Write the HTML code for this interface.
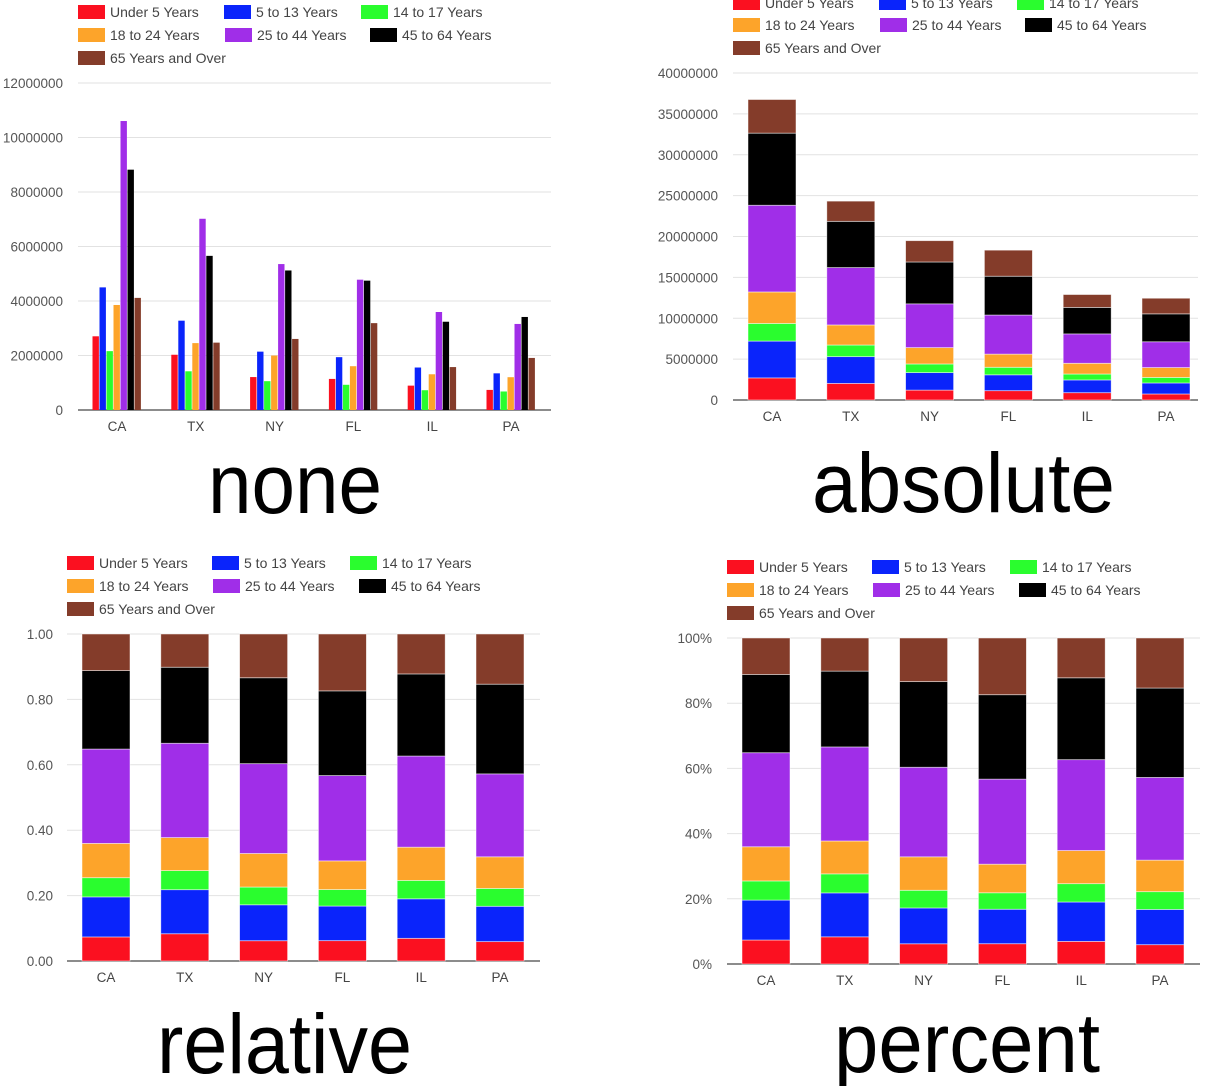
<!DOCTYPE html>
<html><head><meta charset="utf-8">
<style>
html,body{margin:0;padding:0;background:#fff;}
svg{display:block;font-family:"Liberation Sans",Arial,sans-serif;}
</style></head>
<body>
<svg id="root" width="1216" height="1086" viewBox="0 0 1216 1086" xmlns="http://www.w3.org/2000/svg">
<text x="208" y="513" font-size="84" textLength="174" lengthAdjust="spacingAndGlyphs">none</text>
<text x="812" y="512" font-size="84" textLength="303" lengthAdjust="spacingAndGlyphs">absolute</text>
<text x="157" y="1073" font-size="84" textLength="255" lengthAdjust="spacingAndGlyphs">relative</text>
<text x="834" y="1072" font-size="84" textLength="266" lengthAdjust="spacingAndGlyphs">percent</text>
</svg>
<script>
const states = ["CA","TX","NY","FL","IL","PA"];
const ageGroups = ["Under 5 Years","5 to 13 Years","14 to 17 Years","18 to 24 Years","25 to 44 Years","45 to 64 Years","65 Years and Over"];
const under5 = [2704659,2027307,1208495,1140516,894368,737462];
const age5to13 = [4499890,3277946,2141490,1938695,1558919,1345341];
const age14to17 = [2159981,1420518,1058031,925060,725973,679201];
const age18to24 = [3853788,2454721,1999120,1607297,1311479,1203944];
const age25to44 = [10604510,7017731,5355235,4782119,3596343,3157759];
const age45to64 = [8819342,5656528,5120254,4746856,3239173,3414001];
const age65plus = [4114496,2472223,2607672,3187797,1575308,1910571];
const seriesValues = [under5,age5to13,age14to17,age18to24,age25to44,age45to64,age65plus];
const ticksNone = [0,2000000,4000000,6000000,8000000,10000000,12000000];
const ticksAbsolute = [0,5000000,10000000,15000000,20000000,25000000,30000000,35000000,40000000];
const ticksRelative = [0,0.2,0.4,0.6,0.8,1.0];
const tickLabelsRelative = ["0.00","0.20","0.40","0.60","0.80","1.00"];
const tickLabelsPercent = ["0%","20%","40%","60%","80%","100%"];

const colors = ["#fb1020","#0a24fb","#2afd2e","#fda42a","#a02ee8","#000000","#843c2a"];
const NS = "http://www.w3.org/2000/svg";
const root = document.getElementById('root');
function mk(tag, attrs, parent){
  const e = document.createElementNS(NS, tag);
  for (const k in attrs) e.setAttribute(k, attrs[k]);
  (parent||root).appendChild(e);
  return e;
}

const charts = [
  {key:"none", mode:"grouped", y0:410, y1:83, max:12000000, ticks:ticksNone, labels:ticksNone.map(String), labelX:63, gx0:78, gx1:551, c0:117, step:78.8, bw:49, xlabY:431,
   legend:{rows:[12,35,58], xs:[[78,224,361],[78,225,370],[78]]}},
  {key:"absolute", mode:"stack", y0:400, y1:73, max:40000000, ticks:ticksAbsolute, labels:ticksAbsolute.map(String), labelX:718, gx0:733, gx1:1198, c0:772, step:78.8, bw:48, xlabY:421,
   legend:{rows:[3,25,48], xs:[[733,879,1017],[733,880,1025],[733]]}},
  {key:"relative", mode:"norm", y0:961, y1:634, max:1, ticks:ticksRelative, labels:tickLabelsRelative, labelX:53, gx0:67, gx1:540, c0:106, step:78.8, bw:48, xlabY:982,
   legend:{rows:[563,586,609], xs:[[67,212,350],[67,213,359],[67]]}},
  {key:"percent", mode:"norm", y0:964, y1:638, max:1, ticks:ticksRelative, labels:tickLabelsPercent, labelX:712, gx0:727, gx1:1200, c0:766, step:78.8, bw:48, xlabY:985,
   legend:{rows:[567,590,613], xs:[[727,872,1010],[727,873,1019],[727]]}}
];

charts.forEach(ch => {
  const g = mk('g', {});
  
  
  const yScale = v => ch.y0 - (v / ch.max) * (ch.y0 - ch.y1);
  const xCenter = i => ch.c0 + i * ch.step;
  ch.ticks.forEach((t, i) => {
    const y = yScale(t);
    const ln = mk('line', {x1:ch.gx0, x2:ch.gx1, y1:y, y2:y, stroke: i===0 ? '#666' : '#e2e2e2', 'stroke-width': i===0 ? 1.5 : 1}, g);
    
    
    const tx = mk('text', {x:ch.labelX, y:y+5, 'text-anchor':'end', 'font-size':13.5, fill:'#555'}, g);
    tx.textContent = ch.labels[i];
    
    
  });
  states.forEach((s, i) => {
    const cx = xCenter(i);
    let total = 0;
    seriesValues.forEach(arr => total += arr[i]);
    let acc = 0;
    seriesValues.forEach((arr, k) => {
      let r;
      if (ch.mode === 'grouped') {
        const w = ch.bw / 7;
        const y = yScale(arr[i]);
        r = mk('rect', {x: cx - ch.bw/2 + k*w, y: y, width: w - 0.6, height: ch.y0 - y, fill: colors[k]}, g);
      } else {
        const v = ch.mode === 'norm' ? arr[i] / total : arr[i];
        const yTop = yScale(acc + v), yBot = yScale(acc);
        acc += v;
        r = mk('rect', {x: cx - ch.bw/2, y: yTop, width: ch.bw, height: yBot - yTop, fill: colors[k], stroke:'#fff', 'stroke-opacity':0.6, 'stroke-width':0.8}, g);
      }
      
      
    });
    const xl = mk('text', {x: cx, y: ch.xlabY, 'text-anchor':'middle', 'font-size':13.5, fill:'#444'}, g);
    xl.textContent = s;
    
    
  });
  let k = 0;
  ch.legend.rows.forEach((ry, ri) => {
    ch.legend.xs[ri].forEach(lx => {
      const lg = mk('g', {}, g);
      
      
      mk('rect', {x: lx, y: ry - 7, width: 27, height: 14, fill: colors[k]}, lg);
      const t = mk('text', {x: lx + 32, y: ry + 5, 'font-size':14, fill:'#444'}, lg);
      t.textContent = ageGroups[k];
      k++;
    });
  });
});
</script>
</body></html>
